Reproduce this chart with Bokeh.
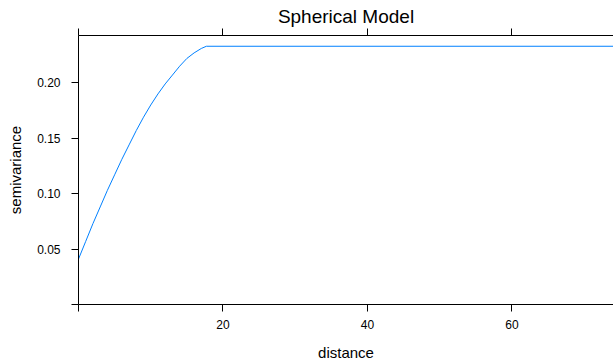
from bokeh.plotting import figure
from bokeh.models import Range1d, LinearAxis, FixedTicker
from bokeh.embed import file_html
from bokeh.resources import INLINE

# Data (spherical variogram model curve)
distance = [0, 1, 2, 3, 4, 5, 6, 7, 8, 9, 10, 11, 12, 13, 14, 15, 16, 17, 17.7, 74.3]
semivariance = [0.041, 0.057, 0.073, 0.088, 0.103, 0.117, 0.131, 0.144, 0.157, 0.169,
                0.180, 0.190, 0.199, 0.207, 0.215, 0.222, 0.227, 0.231, 0.2330, 0.2330]
x_ticks = [0, 20, 40, 60]
x_tick_labels = {0: "", 20: "20", 40: "40", 60: "60"}
y_ticks = [0, 0.05, 0.10, 0.15, 0.20]
y_tick_labels = {0: "", 0.05: "0.05", 0.1: "0.10", 0.15: "0.15", 0.2: "0.20"}

FONT = "Liberation Sans"

p = figure(width=613, height=364, output_backend="svg", toolbar_location=None,
           x_range=Range1d(0, 74.05), y_range=Range1d(0, 0.2427),
           x_axis_location=None, y_axis_location=None,
           min_border_left=78, min_border_right=0, min_border_top=35, min_border_bottom=60)
p.outline_line_color = None
p.grid.visible = False
p.background_fill_color = "white"
p.border_fill_color = "white"

def style_axis(ax, ticks, labels):
    ax.ticker = FixedTicker(ticks=ticks)
    ax.major_label_overrides = labels
    ax.minor_tick_line_color = None
    ax.major_tick_in = 0
    ax.major_tick_out = 7
    ax.axis_line_color = "black"
    ax.major_tick_line_color = "black"
    ax.major_label_text_font = FONT
    ax.major_label_text_font_size = "12px"
    ax.major_label_text_color = "black"
    ax.axis_label_text_font = FONT
    ax.axis_label_text_font_style = "normal"
    ax.axis_label_text_font_size = "15px"
    ax.axis_label_text_color = "black"

left = LinearAxis(axis_label="semivariance")
style_axis(left, y_ticks, y_tick_labels)
left.major_label_orientation = "horizontal"
left.major_label_standoff = 11
left.axis_label_standoff = 10
p.add_layout(left, "left")

bottom = LinearAxis(axis_label="distance")
style_axis(bottom, x_ticks, x_tick_labels)
bottom.major_label_standoff = 8
bottom.axis_label_standoff = 12
p.add_layout(bottom, "below")

top = LinearAxis(axis_label="Spherical Model")
style_axis(top, x_ticks, {t: "" for t in x_ticks})
top.major_label_text_font_size = "0px"
top.major_label_standoff = 0
top.axis_label_standoff = 2
top.axis_label_text_font_size = "19px"
p.add_layout(top, "above")

p.line(distance, semivariance, line_color="#0080ff", line_width=1)

open("out.html", "w").write(file_html(p, INLINE))
